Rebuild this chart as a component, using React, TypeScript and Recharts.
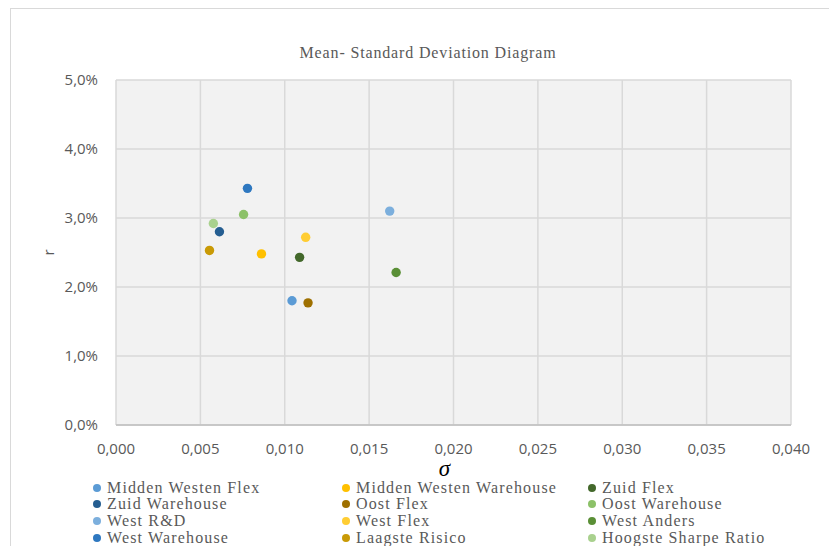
import { CartesianGrid, Scatter, ScatterChart, XAxis, YAxis } from "recharts";

// Mean / standard deviation per portfolio
const seriesNames = [
  "Midden Westen Flex",
  "Midden Westen Warehouse",
  "Zuid Flex",
  "Zuid Warehouse",
  "Oost Flex",
  "Oost Warehouse",
  "West R&D",
  "West Flex",
  "West Anders",
  "West Warehouse",
  "Laagste Risico",
  "Hoogste Sharpe Ratio",
];
const sigmaValues = [0.01043, 0.00862, 0.01088, 0.00613, 0.01138, 0.00756, 0.01622, 0.01124, 0.0166, 0.00779, 0.00554, 0.00577];
const returnValues = [0.018, 0.0248, 0.0243, 0.028, 0.0177, 0.0305, 0.031, 0.0272, 0.0221, 0.0343, 0.0253, 0.0292];
const xTicks = [0, 0.005, 0.01, 0.015, 0.02, 0.025, 0.03, 0.035, 0.04];
const yTicks = [0, 0.01, 0.02, 0.03, 0.04, 0.05];

const seriesColors = [
  "#5b9bd5", "#ffc000", "#43682b", "#255e91", "#9e7000", "#8cc168",
  "#7cafdd", "#ffcd33", "#5a8f36", "#2e78c0", "#c99a06", "#a9d18e",
];

const gray = "#595959";
const tickFont = { fill: gray, fontSize: 15, fontFamily: "Open Sans" };
const serif = "'Liberation Serif', serif";

const fmtX = (v: number) => v.toFixed(3).replace(".", ",");
const fmtY = (v: number) => (v * 100).toFixed(1).replace(".", ",") + "%";

const Dot = (p: any) => <circle cx={p.cx} cy={p.cy} r={4.7} fill={p.fill} />;

const YTitle = (p: any) => {
  const { x, y, height } = p.viewBox;
  const cx = x - 8;
  const cy = y + height / 2;
  return (
    <text x={cx} y={cy} transform={`rotate(-90 ${cx} ${cy})`} textAnchor="middle" dominantBaseline="central" fill={gray} fontSize={15} fontFamily="Open Sans">
      r
    </text>
  );
};

const XTitle = (p: any) => {
  const { x, y, width } = p.viewBox;
  return (
    <text x={x + width / 2 - 9} y={y + 51} textAnchor="middle" fill="#000" fontSize={23} fontStyle="italic" fontFamily={serif}>
      σ
    </text>
  );
};

const legendCols = [97, 346, 592];
const legendRows = [488, 504, 521, 538];

export default function App() {
  return (
    <div style={{ position: "fixed", left: 0, top: 0, width: 829, height: 546, overflow: "hidden", background: "#fff" }}>
      <div style={{ position: "absolute", left: 10, top: 8, width: 840, height: 560, border: "1px solid #d9d9d9", boxSizing: "border-box" }} />
      <div style={{ position: "absolute", left: 0, width: 856, textAlign: "center", fontFamily: serif, fontSize: 16, letterSpacing: 0.85, color: gray, top: 44, lineHeight: "18px" }}>
        Mean- Standard Deviation Diagram
      </div>
      <div style={{ position: "absolute", left: 0, top: 0 }}>
        <ScatterChart width={829} height={546} margin={{ top: 80, right: 38, bottom: 91, left: 56 }}>
          <CartesianGrid fill="#f2f2f2" stroke="#d9d9d9" strokeWidth={1.5} />
          <XAxis
            type="number"
            dataKey="sigma"
            domain={[0, 0.04]}
            ticks={xTicks}
            interval={0}
            tickFormatter={fmtX}
            tick={tickFont}
            tickLine={false}
            tickMargin={12}
            axisLine={{ stroke: "#bfbfbf", strokeWidth: 1.5 }}
            height={30}
            label={{ content: XTitle }}
          />
          <YAxis
            type="number"
            dataKey="r"
            domain={[0, 0.05]}
            ticks={yTicks}
            interval={0}
            tickFormatter={fmtY}
            tick={tickFont}
            tickLine={false}
            axisLine={false}
            tickMargin={12}
            width={60}
            label={{ content: YTitle }}
          />
          {seriesNames.map((name, i) => (
            <Scatter
              key={name}
              name={name}
              data={[{ sigma: sigmaValues[i], r: returnValues[i] }]}
              fill={seriesColors[i]}
              shape={Dot}
              isAnimationActive={false}
            />
          ))}
        </ScatterChart>
      </div>
      {seriesNames.map((name, i) => {
        const x = legendCols[i % 3];
        const y = legendRows[Math.floor(i / 3)];
        return (
          <div key={name}>
            <div style={{ position: "absolute", left: x - 4, top: y - 4, width: 8, height: 8, borderRadius: 4, background: seriesColors[i] }} />
            <div style={{ position: "absolute", left: x + 10, top: y - 9, height: 18, lineHeight: "18px", whiteSpace: "nowrap", fontFamily: serif, fontSize: 16, letterSpacing: 1.15, color: gray }}>
              {name}
            </div>
          </div>
        );
      })}
    </div>
  );
}
